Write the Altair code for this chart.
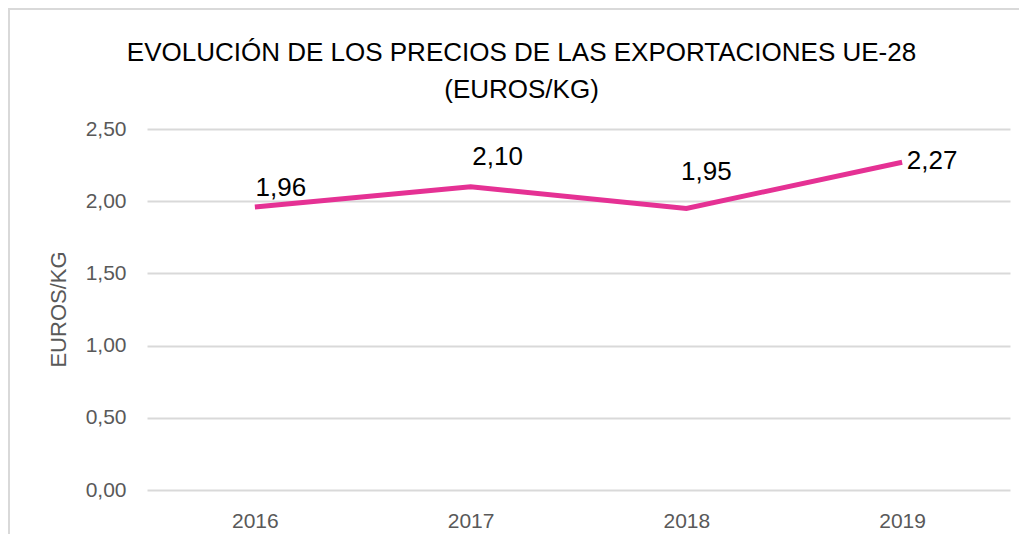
import altair as alt
import pandas as pd

years = ["2016", "2017", "2018", "2019"]
prices = [1.96, 2.10, 1.95, 2.27]
labels = ["1,96", "2,10", "1,95", "2,27"]

df = pd.DataFrame({"year": years, "price": prices, "label": labels})

# label offsets (dx, dy) per year, as placed in the reference
offsets = {"2016": (26, -19), "2017": (27, -30), "2018": (20, -36), "2019": (30, -1)}

PINK = "#E53194"
GRAY = "#595959"

x = alt.X("year:N", scale=alt.Scale(type="point", padding=0.5),
          axis=alt.Axis(title=None, labelAngle=0, ticks=False, domain=False, grid=False,
                        labelPadding=20, labelFontSize=21, labelColor=GRAY,
                        labelFont="Liberation Sans"))
y = alt.Y("price:Q", scale=alt.Scale(domain=[0, 2.5], nice=False),
          axis=alt.Axis(title="EUROS/KG", values=[0, 0.5, 1, 1.5, 2, 2.5],
                        labelExpr="replace(format(datum.value, '.2f'), '.', ',')",
                        ticks=False, domain=False, gridColor="#D9D9D9", gridWidth=2,
                        labelPadding=21, labelFontSize=21, labelColor=GRAY,
                        labelFont="Liberation Sans",
                        titleFont="Liberation Sans", titleFontSize=22, titleColor=GRAY,
                        titleFontWeight="normal", titleX=-77, titleY=180,
                        titleAngle=270))

base = alt.Chart(df)
line = base.mark_line(color=PINK, strokeWidth=5).encode(x=x, y=y)

texts = []
for yr, (dx, dy) in offsets.items():
    texts.append(
        base.transform_filter(alt.datum.year == yr)
        .mark_text(dx=dx, dy=dy, fontSize=26, font="Liberation Sans", color="#000000",
                   baseline="middle", align="center")
        .encode(x=x, y=y, text="label:N")
    )

frame = alt.Chart(df).mark_rect(fill="transparent", stroke="#D9D9D9", strokeWidth=2).encode(
    x=alt.value(-138), x2=alt.value(873), y=alt.value(-120), y2=alt.value(420)
)

chart = alt.layer(frame, line, *texts).properties(
    width=863, height=361,
    title=alt.TitleParams(
        ["EVOLUCIÓN DE LOS PRECIOS DE LAS EXPORTACIONES UE-28", "(EUROS/KG)"],
        font="Liberation Sans", fontSize=26, fontWeight="normal",
        color="#000000", anchor="middle", dx=-57, offset=-95, lineHeight=37
    ),
    autosize=alt.AutoSizeParams(type="none"),
    padding={"left": 139, "top": 121, "right": 9, "bottom": 44},
).configure(background="white").configure_view(stroke=None)

chart.save("out.html", embed_options={"renderer": "svg", "actions": False})
